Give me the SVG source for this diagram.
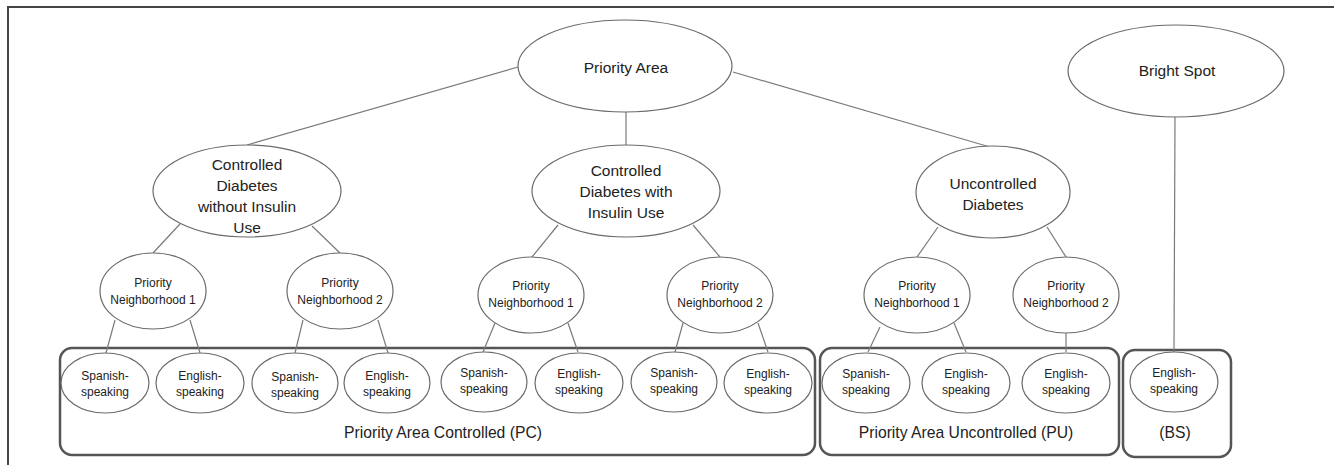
<svg xmlns="http://www.w3.org/2000/svg" width="1334" height="465" viewBox="0 0 1334 465">
<style>
.n ellipse{fill:#fff;stroke:#6a6a6a;stroke-width:1.2}
.c line{stroke:#7a7a7a;stroke-width:1.2}
.box{fill:none;stroke:#555;stroke-width:2.5}
text{font-family:"Liberation Sans",Arial,sans-serif;fill:#222;text-anchor:middle}
.t1{font-size:15.5px}
.t2{font-size:12px}
.t3{font-size:15.7px}
</style>
<rect width="1334" height="465" fill="#fff"/>
<path d="M8,465 V7 H1334" fill="none" stroke="#444" stroke-width="2"/>
<g id="groups">
<rect class="box" x="60" y="348" width="755" height="107" rx="12"/>
<rect class="box" x="820" y="348" width="299" height="107" rx="12"/>
<rect class="box" x="1123" y="350" width="108" height="107" rx="12"/>
<text class="t3" x="443" y="438">Priority Area Controlled (PC)</text>
<text class="t3" x="966" y="438">Priority Area Uncontrolled (PU)</text>
<text class="t3" x="1175" y="438">(BS)</text>
</g>
<g id="connectors" class="c">
<line x1="518" y1="67" x2="247" y2="145"/>
<line x1="626" y1="112" x2="626" y2="145"/>
<line x1="733" y1="72" x2="990" y2="147"/>
<line x1="1175" y1="117" x2="1174" y2="352"/>
<line x1="180" y1="224" x2="153" y2="253"/>
<line x1="312" y1="226" x2="340" y2="253"/>
<line x1="558" y1="225" x2="532" y2="257"/>
<line x1="693" y1="225" x2="720" y2="257"/>
<line x1="938" y1="227" x2="917" y2="257"/>
<line x1="1047" y1="227" x2="1066" y2="257"/>
<line x1="115" y1="320" x2="106" y2="353"/>
<line x1="190" y1="320" x2="200" y2="353"/>
<line x1="303" y1="320" x2="295" y2="353"/>
<line x1="378" y1="320" x2="388" y2="353"/>
<line x1="495" y1="323" x2="483" y2="352"/>
<line x1="568" y1="323" x2="578" y2="352"/>
<line x1="683" y1="323" x2="675" y2="352"/>
<line x1="758" y1="323" x2="768" y2="352"/>
<line x1="880" y1="327" x2="868" y2="352"/>
<line x1="954" y1="323" x2="966" y2="352"/>
<line x1="1066" y1="333" x2="1066" y2="352"/>
</g>
<g id="priority-area" class="n"><ellipse cx="625" cy="66" rx="107" ry="46"/><text class="t1" x="626" y="73">Priority Area</text></g>
<g id="bright-spot" class="n"><ellipse cx="1176" cy="71" rx="108" ry="46"/><text class="t1" x="1177" y="76">Bright Spot</text></g>
<g id="cd-without" class="n"><ellipse cx="247" cy="191" rx="94" ry="46"/>
<text class="t1" x="247" y="170">Controlled</text><text class="t1" x="247" y="191">Diabetes</text><text class="t1" x="247" y="212">without Insulin</text><text class="t1" x="247" y="233">Use</text></g>
<g id="cd-with" class="n"><ellipse cx="626" cy="191" rx="94" ry="46"/>
<text class="t1" x="626" y="176">Controlled</text><text class="t1" x="626" y="197">Diabetes with</text><text class="t1" x="626" y="218">Insulin Use</text></g>
<g id="uncontrolled" class="n"><ellipse cx="993" cy="192" rx="77" ry="46"/>
<text class="t1" x="993" y="189">Uncontrolled</text><text class="t1" x="993" y="210">Diabetes</text></g>
<g id="pn-a1" class="n"><ellipse cx="153" cy="291" rx="53" ry="38"/><text class="t2" x="153" y="287">Priority</text><text class="t2" x="153" y="304">Neighborhood 1</text></g>
<g id="pn-a2" class="n"><ellipse cx="340" cy="291" rx="53" ry="38"/><text class="t2" x="340" y="287">Priority</text><text class="t2" x="340" y="304">Neighborhood 2</text></g>
<g id="pn-b1" class="n"><ellipse cx="531" cy="295" rx="53" ry="38"/><text class="t2" x="531" y="290">Priority</text><text class="t2" x="531" y="307">Neighborhood 1</text></g>
<g id="pn-b2" class="n"><ellipse cx="720" cy="295" rx="53" ry="38"/><text class="t2" x="720" y="290">Priority</text><text class="t2" x="720" y="307">Neighborhood 2</text></g>
<g id="pn-c1" class="n"><ellipse cx="917" cy="295" rx="53" ry="38"/><text class="t2" x="917" y="290">Priority</text><text class="t2" x="917" y="307">Neighborhood 1</text></g>
<g id="pn-c2" class="n"><ellipse cx="1066" cy="295" rx="53" ry="38"/><text class="t2" x="1066" y="290">Priority</text><text class="t2" x="1066" y="307">Neighborhood 2</text></g>
<g id="leaf-1" class="n"><ellipse cx="105" cy="383" rx="44" ry="30"/><text class="t2" x="105" y="380">Spanish-</text><text class="t2" x="105" y="396">speaking</text></g>
<g id="leaf-2" class="n"><ellipse cx="200" cy="383" rx="44" ry="30"/><text class="t2" x="200" y="380">English-</text><text class="t2" x="200" y="396">speaking</text></g>
<g id="leaf-3" class="n"><ellipse cx="295" cy="383" rx="43" ry="30"/><text class="t2" x="295" y="381">Spanish-</text><text class="t2" x="295" y="397">speaking</text></g>
<g id="leaf-4" class="n"><ellipse cx="387" cy="383" rx="43" ry="30"/><text class="t2" x="387" y="380">English-</text><text class="t2" x="387" y="396">speaking</text></g>
<g id="leaf-5" class="n"><ellipse cx="484" cy="382" rx="43" ry="30"/><text class="t2" x="484" y="377">Spanish-</text><text class="t2" x="484" y="393">speaking</text></g>
<g id="leaf-6" class="n"><ellipse cx="579" cy="383" rx="44" ry="30"/><text class="t2" x="579" y="378">English-</text><text class="t2" x="579" y="394">speaking</text></g>
<g id="leaf-7" class="n"><ellipse cx="674" cy="382" rx="43" ry="30"/><text class="t2" x="674" y="377">Spanish-</text><text class="t2" x="674" y="393">speaking</text></g>
<g id="leaf-8" class="n"><ellipse cx="768" cy="383" rx="44" ry="30"/><text class="t2" x="768" y="378">English-</text><text class="t2" x="768" y="394">speaking</text></g>
<g id="leaf-9" class="n"><ellipse cx="866" cy="383" rx="44" ry="30"/><text class="t2" x="866" y="378">Spanish-</text><text class="t2" x="866" y="394">speaking</text></g>
<g id="leaf-10" class="n"><ellipse cx="966" cy="383" rx="44" ry="30"/><text class="t2" x="966" y="378">English-</text><text class="t2" x="966" y="394">speaking</text></g>
<g id="leaf-11" class="n"><ellipse cx="1066" cy="383" rx="44" ry="30"/><text class="t2" x="1066" y="378">English-</text><text class="t2" x="1066" y="394">speaking</text></g>
<g id="leaf-bs" class="n"><ellipse cx="1174" cy="382" rx="44" ry="30"/><text class="t2" x="1174" y="377">English-</text><text class="t2" x="1174" y="393">speaking</text></g>
</svg>
